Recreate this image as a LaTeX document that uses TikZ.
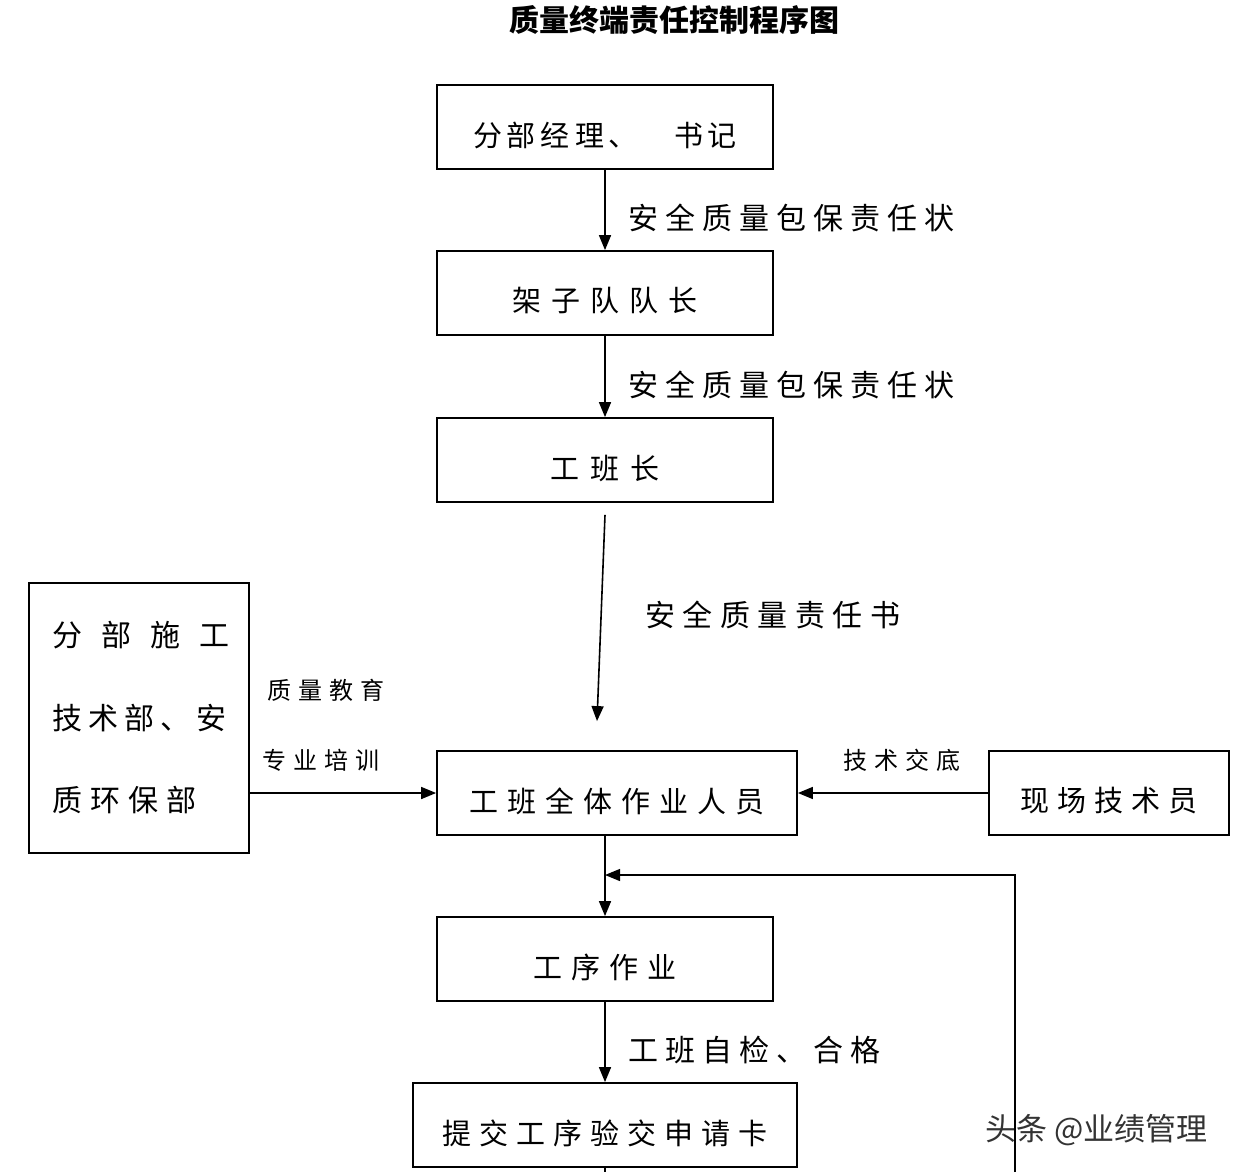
\documentclass[tikz,border=0pt]{standalone}
\usepackage{fontspec}
\setmainfont{Noto Sans CJK SC}
\usetikzlibrary{arrows.meta}
\makeatletter
\def\spaced#1#2{\def\spgap{#1}\spacedfirst#2\relax}
\def\spacedfirst#1{#1\spacedi}
\def\spacedi#1{\ifx#1\relax\else\hspace{\spgap}#1\expandafter\spacedi\fi}
\makeatother
\newcommand{\bx}[1]{\raisebox{-8pt}[\height][\depth]{#1}}
\tikzset{
  box/.style={draw, line width=1.8pt, minimum width=336pt, minimum height=84pt, inner sep=0pt, font=\fontsize{29}{31}\selectfont},
  arr/.style={line width=1.6pt, -{Triangle[length=15pt,width=12pt]}},
  lab/.style={anchor=west, inner sep=0pt, font=\fontsize{30}{32}\selectfont},
  slab/.style={anchor=west, inner sep=0pt, font=\fontsize{24}{26}\selectfont},
}
\begin{document}
\begin{tikzpicture}[x=1pt,y=-1pt]
\useasboundingbox (0,0) rectangle (1238,1172);
% title
\node[inner sep=0pt, font=\fontsize{30}{32}\selectfont\bfseries] (title) at (674,20) {质量终端责任控制程序图};
% boxes
\node[box] (b1) at (605,127) {\bx{\spaced{5pt}{分部经理、}\hspace{36pt}\spaced{5pt}{书记}}};
\node[box] (b2) at (605,293) {\bx{\spaced{10pt}{架子队队长}}};
\node[box] (b3) at (605,460) {\bx{\spaced{11pt}{工班长}}};
\node[box, minimum width=360pt] (b4) at (617,793) {\bx{\spaced{9pt}{工班全体作业人员}}};
\node[box, minimum width=240pt] (r) at (1109,793) {\bx{\spaced{8pt}{现场技术员}}};
\node[box] (b5) at (605,959) {\bx{\spaced{9pt}{工序作业}}};
\node[box, minimum width=384pt] (b6) at (605,1125) {\bx{\spaced{8pt}{提交工序验交申请卡}}};
\node[draw, line width=1.8pt, minimum width=220pt, minimum height=270pt, inner sep=0pt] (l) at (139,718) {};
\node[lab] (l1) at (52,635) {\spaced{19pt}{分部施工}};
\node[lab] (l2) at (52,718) {\spaced{6pt}{技术部、安}};
\node[lab] (l3) at (52,800) {\spaced{8pt}{质环保部}};
% labels
\node[lab] (t1) at (628,218) {\spaced{7pt}{安全质量包保责任状}};
\node[lab] (t2) at (628,385) {\spaced{7pt}{安全质量包保责任状}};
\node[lab] (t3) at (645,615) {\spaced{7.5pt}{安全质量责任书}};
\node[slab] (t4) at (267,690) {\spaced{7pt}{质量教育}};
\node[slab] (t5) at (262,760) {\spaced{7pt}{专业培训}};
\node[slab] (t6) at (843,760) {\spaced{7pt}{技术交底}};
\node[lab] (t7) at (628,1050) {\spaced{7pt}{工班自检、合格}};
\node[anchor=west, inner sep=0pt, text=black!80, font=\fontsize{31}{33}\selectfont] (wm) at (985,1130) {头条 @业绩管理};
% connectors
\draw[arr] (b1) -- (b2);
\draw[arr] (b2) -- (b3);
\draw[arr] ([yshift=-12pt]b3.south) -- ([xshift=-20pt,yshift=29pt]b4.north);
\draw[arr] (l.east |- b4.west) -- (b4.west);
\draw[arr] (r.west) -- (b4.east);
\draw[arr] (b5.north |- b4.south) -- (b5.north);
\coordinate (fbtop) at (1015,875);
\coordinate (fbbot) at (1015,1172);
\draw[arr, line width=1.3pt] (fbbot) -- (fbtop) -- (b5.north |- fbtop);
\draw[arr] (b5) -- (b6);
\coordinate (bot) at (605,1172);
\draw[line width=1.6pt] (b6.south) -- (bot);
\end{tikzpicture}
\end{document}
